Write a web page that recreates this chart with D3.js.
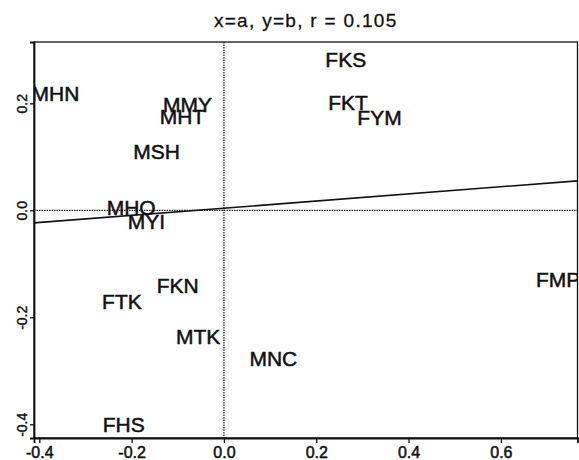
<!DOCTYPE html>
<html>
<head>
<meta charset="utf-8">
<script src="https://cdn.jsdelivr.net/npm/d3@7"></script>
<style>
  body { margin: 0; background: #fff; }
  text { font-family: "Liberation Sans", Arial, sans-serif; fill: #111; }
</style>
</head>
<body>
<div id="chart"></div>
<script>
var labels = ["MHN", "MMY", "MHT", "MSH", "MHO", "MYI", "FKS", "FKT", "FYM", "FMP",
              "FKN", "FTK", "MTK", "MNC", "FHS"];
var xVals = [-0.365, -0.079, -0.090, -0.146, -0.201, -0.168, 0.264, 0.269, 0.337, 0.724,
             -0.100, -0.221, -0.056, 0.107, -0.217];
var yVals = [0.219, 0.197, 0.175, 0.110, 0.005, -0.021, 0.282, 0.202, 0.173, -0.129,
             -0.140, -0.171, -0.236, -0.277, -0.400];
var xTicks = [-0.4, -0.2, 0.0, 0.2, 0.4, 0.6];
var yTicks = [-0.4, -0.2, 0.0, 0.2];
var fitSlope = 0.0667, fitIntercept = 0.004;
var title = "x=a, y=b, r = 0.105";

var width = 579, height = 460;
var box = { left: 34, right: 577.5, top: 42, bottom: 438 };

var svg = d3.select("#chart").append("svg")
    .attr("width", width)
    .attr("height", height);

var x = d3.scaleLinear().domain([-0.4115, 0.766]).range([box.left, box.right]);
var y = d3.scaleLinear().domain([-0.4256, 0.3146]).range([box.bottom, box.top]);

svg.append("defs").append("clipPath").attr("id", "plotclip")
    .append("rect")
    .attr("x", box.left).attr("y", box.top)
    .attr("width", box.right - box.left).attr("height", box.bottom - box.top);

// title
svg.append("text")
    .attr("x", (box.left + box.right) / 2)
    .attr("y", 26.5)
    .attr("text-anchor", "middle")
    .attr("font-size", "19px")
    .attr("letter-spacing", "1.3px")
    .attr("stroke", "#111").attr("stroke-width", 0.3)
    .text(title);

var plot = svg.append("g").attr("clip-path", "url(#plotclip)");

// reference lines at zero
plot.append("line")
    .attr("x1", x(0)).attr("x2", x(0))
    .attr("y1", box.top).attr("y2", box.bottom)
    .attr("stroke", "#222").attr("stroke-width", 1.2)
    .attr("stroke-dasharray", "1.5,1");
plot.append("line")
    .attr("x1", box.left).attr("x2", box.right)
    .attr("y1", y(0)).attr("y2", y(0))
    .attr("stroke", "#222").attr("stroke-width", 1.2)
    .attr("stroke-dasharray", "1.5,1");

// fitted line
var xd = x.domain();
plot.append("line")
    .attr("x1", x(xd[0])).attr("y1", y(fitIntercept + fitSlope * xd[0]))
    .attr("x2", x(xd[1])).attr("y2", y(fitIntercept + fitSlope * xd[1]))
    .attr("stroke", "#111").attr("stroke-width", 1.6);

// point labels
plot.selectAll("text.pt")
    .data(labels)
    .enter().append("text")
    .attr("class", "pt")
    .attr("x", function(d, i) { return x(xVals[i]); })
    .attr("y", function(d, i) { return y(yVals[i]); })
    .attr("dy", "0.36em")
    .attr("text-anchor", "middle")
    .attr("font-size", "21px")
    .attr("stroke", "#111").attr("stroke-width", 0.5)
    .text(function(d) { return d; });

// frame
svg.append("rect")
    .attr("x", box.left).attr("y", box.top)
    .attr("width", box.right - box.left).attr("height", box.bottom - box.top)
    .attr("fill", "none").attr("stroke", "#111").attr("stroke-width", 1.3);

// axes
var xAxis = svg.append("g")
    .attr("transform", "translate(0," + box.bottom + ")")
    .call(d3.axisBottom(x).tickValues(xTicks).tickSize(5).tickPadding(4)
        .tickFormat(d3.format(".1f")));
xAxis.select(".domain").attr("stroke-width", 1.8).attr("stroke", "#111");
xAxis.selectAll(".tick line").attr("stroke", "#111").attr("stroke-width", 1.3);
xAxis.selectAll(".tick text")
    .attr("font-size", "16px")
    .attr("font-family", "Liberation Sans, Arial, sans-serif")
    .attr("fill", "#111")
    .attr("stroke", "#111").attr("stroke-width", 0.5)
    .text(function(d) { return d3.format(".1f")(d).replace("−", "-"); });

var yAxis = svg.append("g")
    .attr("transform", "translate(" + box.left + ",0)")
    .call(d3.axisLeft(y).tickValues(yTicks).tickSize(4)
        .tickFormat(d3.format(".1f")));
yAxis.select(".domain").attr("stroke-width", 1.8).attr("stroke", "#111");
yAxis.selectAll(".tick line").attr("stroke", "#111").attr("stroke-width", 1.3);
yAxis.selectAll(".tick text")
    .attr("font-size", "14px")
    .attr("font-family", "Liberation Sans, Arial, sans-serif")
    .attr("fill", "#111")
    .attr("stroke", "#111").attr("stroke-width", 0.4)
    .attr("x", null).attr("dy", null)
    .attr("text-anchor", "middle")
    .attr("transform", "translate(-7,0) rotate(-90)")
    .text(function(d) { return d3.format(".1f")(d).replace("−", "-"); });
</script>
</body>
</html>
